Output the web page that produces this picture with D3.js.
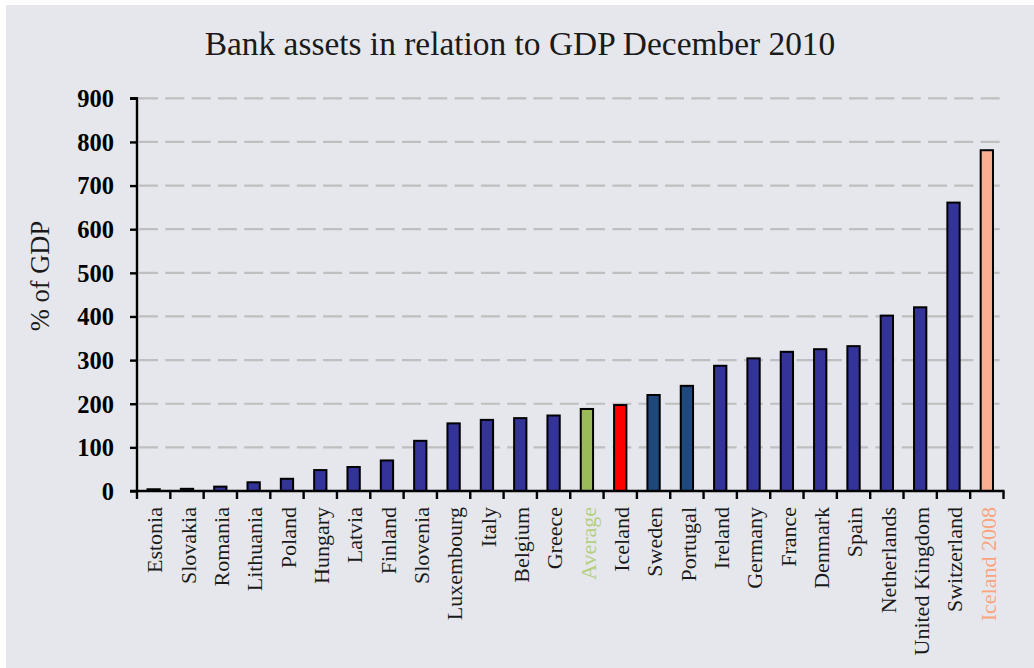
<!DOCTYPE html>
<html>
<head>
<meta charset="utf-8">
<script src="https://cdn.jsdelivr.net/npm/d3@7"></script>
<style>
  html, body { margin: 0; padding: 0; background: #ffffff; }
  svg { display: block; }
  text { font-family: "Liberation Serif", "Times New Roman", serif; }
</style>
</head>
<body>
<svg id="chart" width="1034" height="668"></svg>
<script>
// Bank assets as % of GDP, December 2010
const countries = ["Estonia", "Slovakia", "Romania", "Lithuania", "Poland", "Hungary", "Latvia",
  "Finland", "Slovenia", "Luxembourg", "Italy", "Belgium", "Greece", "Average", "Iceland",
  "Sweden", "Portugal", "Ireland", "Germany", "France", "Denmark", "Spain", "Netherlands",
  "United Kingdom", "Switzerland", "Iceland 2008"];
const assetsPctGdp = [4, 5, 10, 20, 28, 48, 55, 70, 115, 155, 163, 167, 173, 188, 197,
  220, 241, 287, 304, 319, 325, 332, 402, 421, 661, 781];
const yTicks = [0, 100, 200, 300, 400, 500, 600, 700, 800, 900];

const titleText = "Bank assets in relation to GDP December 2010";
const yAxisLabel = "% of GDP";

// bar fills and label colours for highlighted entries
const fillFor = name => {
  if (name === "Average") return "#9BBB59";
  if (name === "Iceland") return "#FF0000";
  if (name === "Sweden" || name === "Portugal") return "#1F497D";
  if (name === "Iceland 2008") return "#F9AD91";
  return "#333399";
};
const labelColorFor = name => {
  if (name === "Average") return "#B3CF7F";
  if (name === "Iceland 2008") return "#F9A47E";
  return "#1a1a1a";
};

const svg = d3.select("#chart");
svg.append("rect").attr("x", 6).attr("y", 5).attr("width", 1028).attr("height", 663)
  .attr("fill", "#E6E7EC");

const plotLeft = 137, plotRight = 1003.5, plotTop = 98.3, plotBottom = 491;

const x = d3.scaleBand().domain(countries).range([plotLeft, plotRight]).paddingInner(0).paddingOuter(0);
const y = d3.scaleLinear().domain([0, 900]).range([plotBottom, plotTop]);

// dashed gridlines
svg.append("g").selectAll("line").data(yTicks.filter(d => d > 0)).join("line")
  .attr("x1", plotLeft + 2).attr("x2", plotRight - 2)
  .attr("y1", d => y(d)).attr("y2", d => y(d))
  .attr("stroke", "#BFBFBF").attr("stroke-width", 2.2)
  .attr("stroke-dasharray", "19,7.3");

// bars
const barW = 12.3;
svg.append("g").selectAll("rect").data(countries).join("rect")
  .attr("x", d => x(d) + (x.bandwidth() - barW) / 2)
  .attr("width", barW)
  .attr("y", (d, i) => y(assetsPctGdp[i]))
  .attr("height", (d, i) => y(0) - y(assetsPctGdp[i]))
  .attr("fill", d => fillFor(d))
  .attr("stroke", "#000").attr("stroke-width", 2);

// y axis
const yAxis = svg.append("g").attr("transform", `translate(${plotLeft},0)`)
  .call(d3.axisLeft(y).tickValues(yTicks).tickSize(7).tickPadding(16));
yAxis.select(".domain").attr("stroke", "#000").attr("stroke-width", 2.4)
  .attr("d", `M-7,${plotTop}H0V${plotBottom}`);
yAxis.selectAll(".tick line").attr("stroke", "#000").attr("stroke-width", 2.4);
yAxis.selectAll(".tick text").attr("font-size", 24.5).attr("font-weight", "bold")
  .attr("fill", "#000").attr("dy", "0.34em")
  .style("font-family", "'Liberation Serif', serif");

// x axis with ticks at band boundaries
const xAxis = svg.append("g").attr("transform", `translate(0,${plotBottom})`);
xAxis.append("line").attr("x1", plotLeft - 7).attr("x2", plotRight + 1)
  .attr("stroke", "#000").attr("stroke-width", 2.4);
const bounds = countries.map(d => x(d)).concat([plotRight]);
xAxis.selectAll("line.tk").data(bounds).join("line").attr("class", "tk")
  .attr("x1", d => d).attr("x2", d => d).attr("y1", 0).attr("y2", 8)
  .attr("stroke", "#000").attr("stroke-width", 2.4);

// category labels, rotated
svg.append("g").selectAll("text").data(countries).join("text")
  .attr("transform", d => `translate(${x(d) + x.bandwidth() / 2 + 1},507) rotate(-90)`)
  .attr("text-anchor", "end").attr("dy", "0.35em")
  .attr("font-size", 22)
  .attr("fill", d => labelColorFor(d))
  .text(d => d);

// y axis title
svg.append("text")
  .attr("transform", "translate(40,276) rotate(-90)")
  .attr("text-anchor", "middle").attr("dy", "0.35em")
  .attr("font-size", 26.5).attr("fill", "#1a1a1a")
  .text(yAxisLabel);

// chart title, sized to its span
const title = svg.append("text")
  .attr("x", 520).attr("y", 55).attr("text-anchor", "middle")
  .attr("font-size", 32).attr("fill", "#1a1a1a")
  .text(titleText);
const tw = title.node().getComputedTextLength();
title.attr("font-size", 32 * 631 / tw);
</script>
</body>
</html>
